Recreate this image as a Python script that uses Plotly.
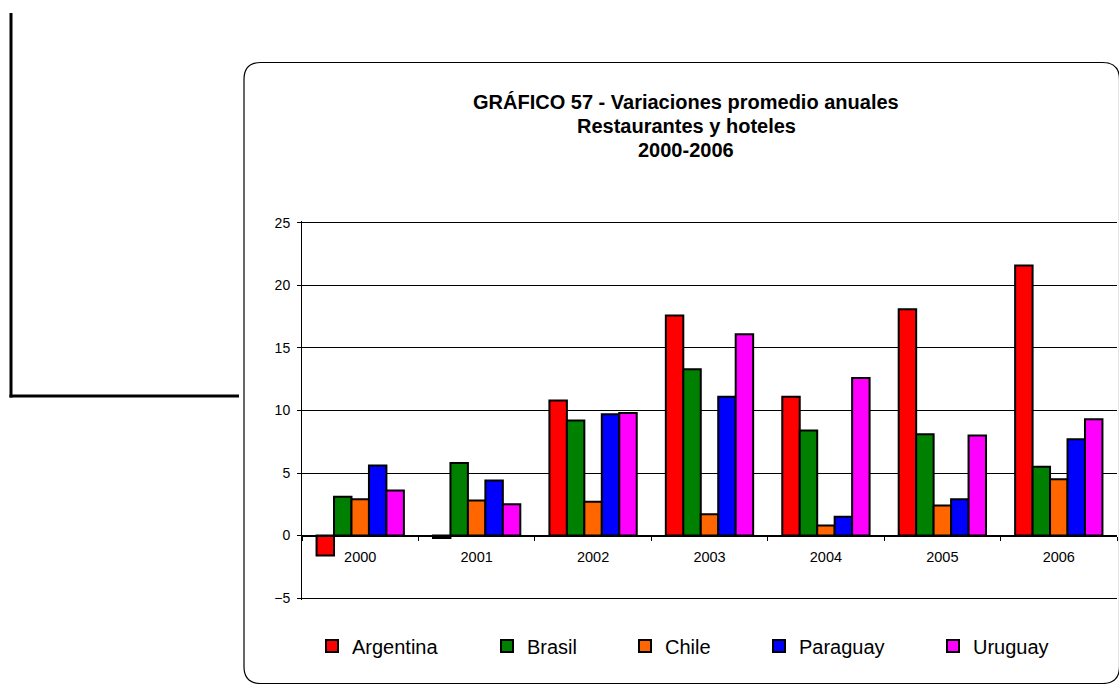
import plotly.graph_objects as go

# ---- data ----
years = ["2000", "2001", "2002", "2003", "2004", "2005", "2006"]
argentina = [-1.6, -0.2, 10.8, 17.6, 11.1, 18.1, 21.6]
brasil = [3.1, 5.8, 9.2, 13.3, 8.4, 8.1, 5.5]
chile = [2.9, 2.8, 2.7, 1.7, 0.8, 2.4, 4.5]
paraguay = [5.6, 4.4, 9.7, 11.1, 1.5, 2.9, 7.7]
uruguay = [3.6, 2.5, 9.8, 16.1, 12.6, 8.0, 9.3]
y_ticks = [-5, 0, 5, 10, 15, 20, 25]
title_lines = ["GRÁFICO 57 - Variaciones promedio anuales",
               "Restaurantes y hoteles",
               "2000-2006"]

series = [
    ("Argentina", argentina, "#FF0000"),
    ("Brasil", brasil, "#008000"),
    ("Chile", chile, "#FF6600"),
    ("Paraguay", paraguay, "#0000FF"),
    ("Uruguay", uruguay, "#FF00FF"),
]

# ---- layout geometry (pixels) ----
W, H = 1119, 684
L, R, T, B = 302, 2, 221, 84
PW, PH = W - L - R, H - T - B
FONT = "Liberation Sans, Arial, sans-serif"
Y_LO, Y_HI = -5.15, 25.15


def px(x):
    return (x - L) / PW


def py(y):
    return (H - B - y) / PH


fig = go.Figure()
legend_names = ["legend", "legend2", "legend3", "legend4", "legend5"]
for (name, vals, col), lg in zip(series, legend_names):
    fig.add_trace(go.Bar(
        name=name, x=years, y=vals, legend=lg,
        marker=dict(color=col, line=dict(color="black", width=2)),
    ))

# legends: one per series to mimic the spaced layout
legend_left = [312, 487, 625, 759, 933]
legend_layouts = {}
for lg, xl in zip(legend_names, legend_left):
    legend_layouts[lg] = dict(
        x=px(xl), xanchor="left", y=py(646), yanchor="middle",
        orientation="h", font=dict(family=FONT, size=20, color="black"),
        bgcolor="rgba(0,0,0,0)", borderwidth=0, itemwidth=30,
    )

# frame with rounded corners
fl, ft, fr, fb, rr = 244, 62.5, 1119.5, 683.5, 17


def P(x, y):
    return f"{px(x):.5f},{py(y):.5f}"


frame_path = (
    f"M {P(fl, ft + rr)} L {P(fl, fb - rr)} Q {P(fl, fb)} {P(fl + rr, fb)} "
    f"L {P(fr - rr, fb)} Q {P(fr, fb)} {P(fr, fb - rr)} "
    f"L {P(fr, ft + rr)} Q {P(fr, ft)} {P(fr - rr, ft)} "
    f"L {P(fl + rr, ft)} Q {P(fl, ft)} {P(fl, ft + rr)} Z"
)

shapes = [
    dict(type="path", xref="paper", yref="paper", path=frame_path,
         line=dict(color="black", width=1.2), layer="below"),
    dict(type="line", xref="paper", yref="paper",
         x0=px(11), x1=px(11), y0=py(13), y1=py(397.5),
         line=dict(color="black", width=3)),
    dict(type="line", xref="paper", yref="paper",
         x0=px(9.5), x1=px(239), y0=py(396), y1=py(396),
         line=dict(color="black", width=3)),
]

annotations = []
for i, t in enumerate(title_lines):
    annotations.append(dict(
        text=f"<b>{t}</b>", xref="paper", yref="paper",
        x=px(686), y=py(102 + 24 * i), xanchor="center", yanchor="middle",
        showarrow=False, font=dict(family=FONT, size=20, color="black"),
    ))

fig.update_layout(
    width=W, height=H,
    margin=dict(l=L, r=R, t=T, b=B, pad=0),
    paper_bgcolor="white", plot_bgcolor="white",
    barmode="group", bargap=0.25, bargroupgap=0,
    font=dict(family=FONT, size=14, color="black"),
    shapes=shapes, annotations=annotations,
    showlegend=True,
    **legend_layouts,
)

fig.update_yaxes(
    range=[Y_LO, Y_HI], tickvals=y_ticks, showgrid=True,
    gridcolor="black", gridwidth=1, zeroline=False,
    showline=True, linecolor="black", linewidth=1,
    ticks="outside", ticklen=4, tickcolor="black", ticklabelstandoff=4,
    tickfont=dict(family=FONT, size=14, color="black"),
)
fig.update_xaxes(
    type="category", anchor="free", position=(0 - Y_LO) / (Y_HI - Y_LO),
    showline=True, linecolor="black", linewidth=1,
    ticks="outside", ticklen=4, tickcolor="black", tickson="boundaries",
    ticklabelstandoff=8,
    showgrid=False, zeroline=False,
    tickfont=dict(family=FONT, size=14.5, color="black"),
)

fig.write_html("out.html", config={"displayModeBar": False},
               post_script="document.body.style.margin='0';document.body.style.overflow='hidden';")
